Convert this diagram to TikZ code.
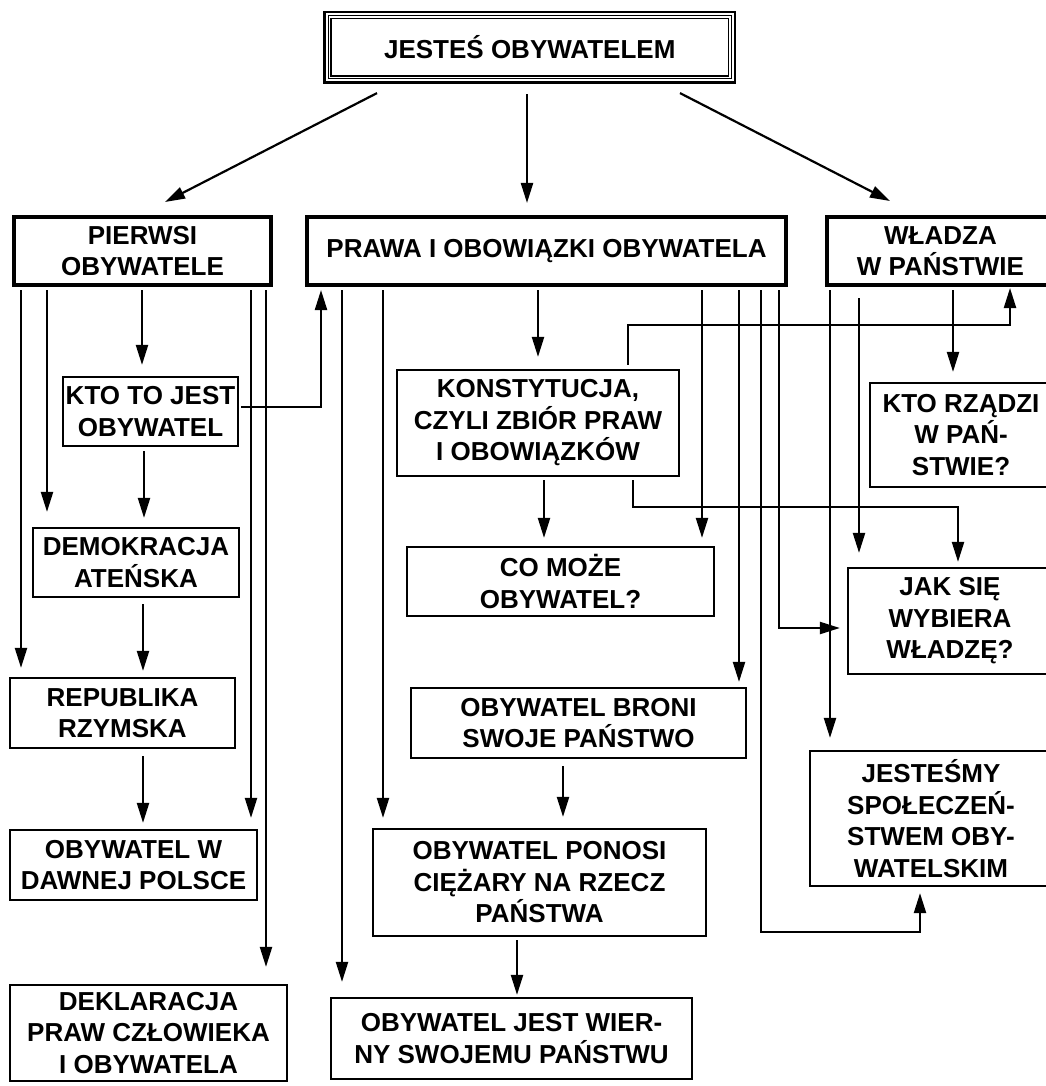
\documentclass[tikz,border=0pt]{standalone}
\usepackage{fontspec}
\setmainfont{Liberation Sans}
\usetikzlibrary{arrows.meta}
\begin{document}
\begin{tikzpicture}[x=1pt,y=-1pt,
  box/.style={draw, line width=2.2pt, align=center, inner sep=2pt, font=\bfseries\fontsize{26}{31.5}\selectfont},
  heavybox/.style={box, line width=4pt},
  arr/.style={-{Triangle[length=20pt,width=12pt]}, line width=2.2pt, shorten <=3pt},
  ln/.style={line width=2.2pt}]
\useasboundingbox (0,0) rectangle (1045,1086);
\fill[white] (0,0) rectangle (1045,1086);

% top box with triple border
\node[box, minimum width=410.5pt, minimum height=70.5pt] (top) at (529.75,47.25) {JESTEŚ OBYWATELEM};
\draw[line width=0.8pt] ([shift={(4.8pt,4.8pt)}]top.south west) rectangle ([shift={(-4.8pt,-4.8pt)}]top.north east);
\draw[line width=1.3pt] ([shift={(7.5pt,7.5pt)}]top.south west) rectangle ([shift={(-7.5pt,-7.5pt)}]top.north east);

% level 2
\node[heavybox, minimum width=257pt, minimum height=68pt] (pierwsi) at (142.5,251) {PIERWSI\\OBYWATELE};
\node[heavybox, minimum width=479pt, minimum height=68pt] (prawa) at (546.5,251) {PRAWA I OBOWIĄZKI OBYWATELA};
\node[heavybox, minimum width=227pt, minimum height=68pt] (wladza) at (940.5,251) {WŁADZA\\W PAŃSTWIE};

% left column
\node[box, minimum width=175pt, minimum height=69pt] (kto) at (150.5,411.5) {KTO TO JEST\\OBYWATEL};
\node[box, minimum width=206pt, minimum height=69pt] (demo) at (136,562.5) {DEMOKRACJA\\ATEŃSKA};
\node[box, minimum width=225pt, minimum height=70pt] (rep) at (122.5,713) {REPUBLIKA\\RZYMSKA};
\node[box, minimum width=247pt, minimum height=70pt] (dawnej) at (133.5,865) {OBYWATEL W\\DAWNEJ POLSCE};
\node[box, minimum width=277pt, minimum height=96pt] (dekl) at (148.5,1033) {DEKLARACJA\\PRAW CZŁOWIEKA\\I OBYWATELA};

% middle column
\node[box, minimum width=282pt, minimum height=106pt] (konst) at (538,423) {KONSTYTUCJA,\\CZYLI ZBIÓR PRAW\\I OBOWIĄZKÓW};
\node[box, minimum width=307pt, minimum height=69pt] (comoze) at (560.5,581.5) {CO MOŻE\\OBYWATEL?};
\node[box, minimum width=335pt, minimum height=70pt] (broni) at (578.5,723) {OBYWATEL BRONI\\SWOJE PAŃSTWO};
\node[box, minimum width=333pt, minimum height=107pt] (ponosi) at (539.5,882.5) {OBYWATEL PONOSI\\CIĘŻARY NA RZECZ\\PAŃSTWA};
\node[box, minimum width=361pt, minimum height=81pt] (wierny) at (511.5,1038.5) {OBYWATEL JEST WIER-\\NY SWOJEMU PAŃSTWU};

% right column
\node[box, minimum width=182pt, minimum height=104pt] (ktorz) at (961,435) {KTO RZĄDZI\\W PAŃ-\\STWIE?};
\node[box, minimum width=204pt, minimum height=106pt] (jak) at (950,621) {JAK SIĘ\\WYBIERA\\WŁADZĘ?};
\node[box, minimum width=242pt, minimum height=135pt] (jestesmy) at (931,818.5) {JESTEŚMY\\SPOŁECZEŃ-\\STWEM OBY-\\WATELSKIM};

% helper coordinates for connector x positions
\foreach \xx in {21,47,142,143,144,251,266,321,342,383,517,538,544,563,628,633,702,739,761,779,830,859,953}
  \coordinate (v\xx) at (\xx,0);
\coordinate (c1) at (920,932);
\coordinate (c2) at (1010,325);
\coordinate (c3) at (958,507);

% from top box
\draw[arr, shorten <=0pt] ([xshift=-152.75pt,yshift=-9.5pt]top.south) -- ([xshift=22.5pt,yshift=13pt]pierwsi.north);
\draw[arr, shorten <=0pt] ([xshift=-2.75pt,yshift=-10.5pt]top.south) -- ([xshift=-19.5pt,yshift=12pt]prawa.north);
\draw[arr, shorten <=0pt] ([xshift=150.25pt,yshift=-9.5pt]top.south) -- ([xshift=-50.5pt,yshift=14pt]wladza.north);

% from PIERWSI OBYWATELE
\draw[arr, shorten >=9pt] (pierwsi.south -| v21) -- (rep.north -| v21);
\draw[arr, shorten >=15pt] (pierwsi.south -| v47) -- (demo.north -| v47);
\draw[arr, shorten >=11pt] (pierwsi.south -| v142) -- (kto.north -| v142);
\draw[arr, shorten >=11pt] (pierwsi.south -| v251) -- (dawnej.north -| v251);
\draw[arr, shorten >=17pt] (pierwsi.south -| v266) -- (dekl.north -| v266);
\draw[arr, shorten <=4pt, shorten >=9pt] (kto.south -| v144) -- (demo.north -| v144);
\draw[arr, shorten <=6pt, shorten >=6pt] (demo.south -| v143) -- (rep.north -| v143);
\draw[arr, shorten <=7pt, shorten >=6pt] (rep.south -| v143) -- (dawnej.north -| v143);
\draw[arr, shorten <=2pt, shorten >=3pt] ([yshift=4.5pt]kto.east) -| (prawa.south -| v321);

% from PRAWA I OBOWIAZKI
\draw[arr, shorten >=15pt] (prawa.south -| v342) -- (wierny.north -| v342);
\draw[arr, shorten >=10pt] (prawa.south -| v383) -- (ponosi.north -| v383);
\draw[arr, shorten >=12pt] (prawa.south -| v538) -- (konst.north -| v538);
\draw[arr, shorten >=8pt] (prawa.south -| v702) -- (comoze.north -| v702);
\draw[arr, shorten >=5pt] (prawa.south -| v739) -- (broni.north -| v739);
\draw[arr, shorten >=6pt] (prawa.south -| v761) |- (c1) -- (jestesmy.south -| c1);
\draw[arr, shorten >=7pt] (prawa.south -| v779) |- ([yshift=-7pt]jak.west);

% from KONSTYTUCJA
\draw[arr, shorten <=4pt, shorten >=1pt] (konst.north -| v628) |- (c2) -- (wladza.south -| c2);
\draw[arr, shorten >=8pt] (konst.south -| v544) -- (comoze.north -| v544);
\draw[arr, shorten >=5pt] (konst.south -| v633) |- (c3) -- (jak.north -| c3);

% middle chain
\draw[arr, shorten <=7pt, shorten >=11pt] (broni.south -| v563) -- (ponosi.north -| v563);
\draw[arr, shorten >=2pt] (ponosi.south -| v517) -- (wierny.north -| v517);

% from WLADZA
\draw[arr, shorten >=12pt] (wladza.south -| v830) -- (jestesmy.north -| v830);
\draw[arr, shorten <=11pt, shorten >=14pt] (wladza.south -| v859) -- (jak.north -| v859);
\draw[arr, shorten >=10pt] (wladza.south -| v953) -- (ktorz.north -| v953);
\end{tikzpicture}
\end{document}
